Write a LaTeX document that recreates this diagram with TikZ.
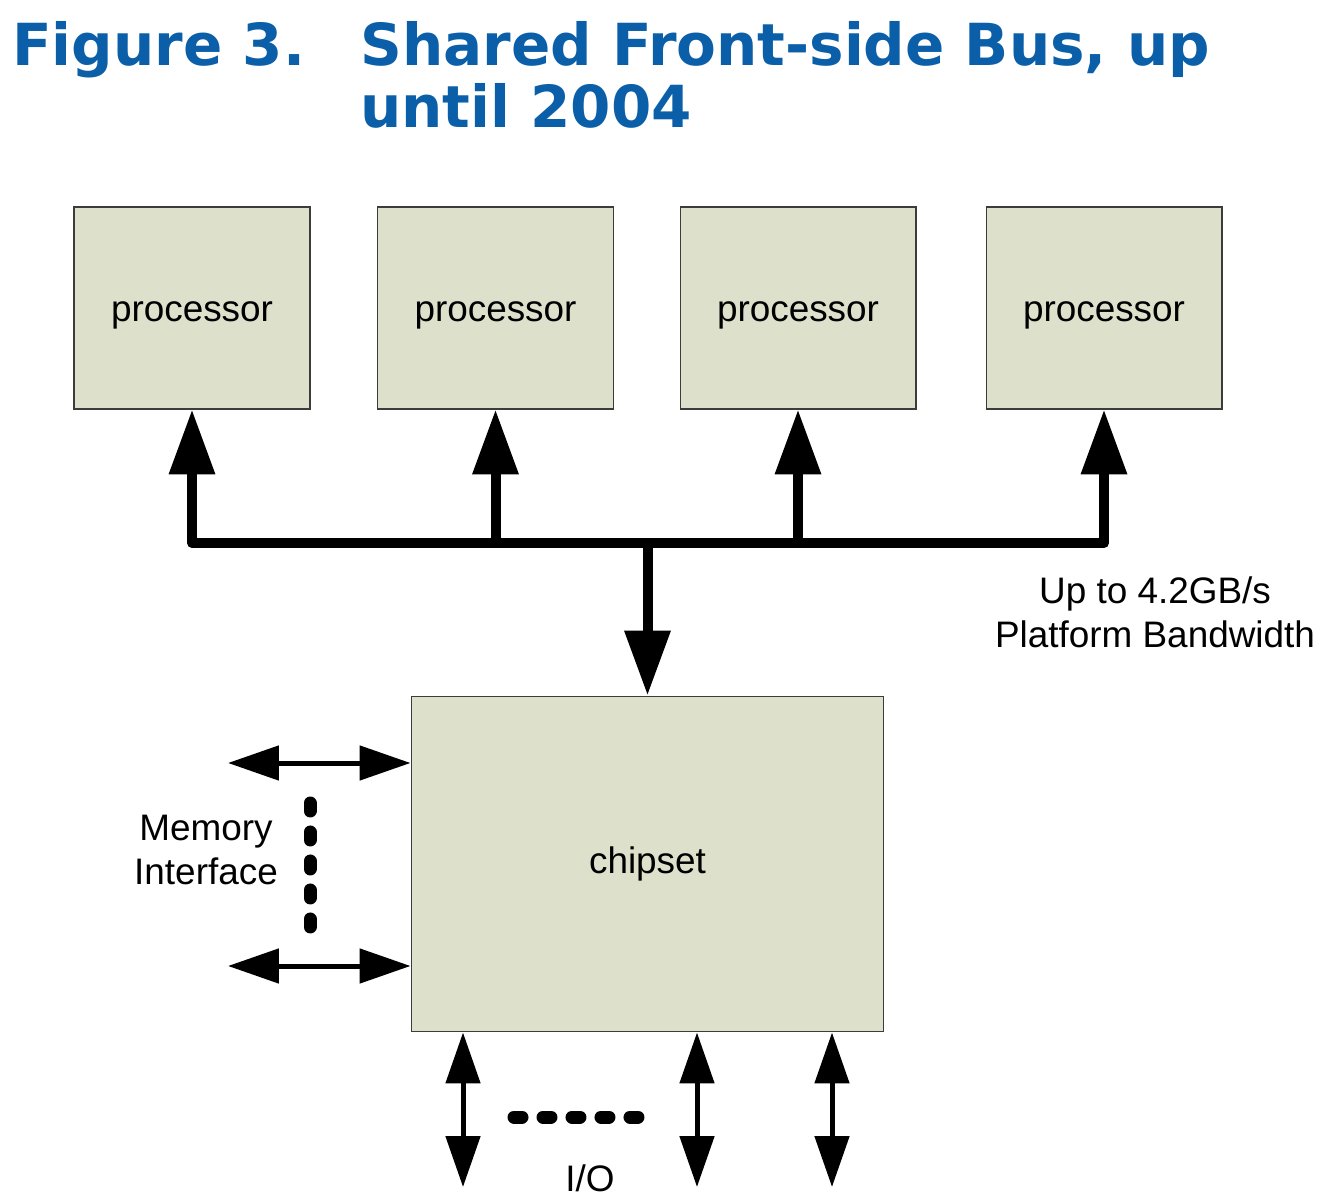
\documentclass[tikz,border=0pt]{standalone}
\usepackage{fontspec}
\setmainfont{Liberation Sans}
\newfontfamily\titlefont{DejaVu Sans}
\usepackage{tikz}
\usetikzlibrary{arrows.meta}
\definecolor{titleblue}{RGB}{10,95,168}
\definecolor{boxfill}{RGB}{221,225,203}
\definecolor{boxline}{RGB}{60,60,60}
\tikzset{
  procbox/.style={draw=boxline, line width=0.6pt, fill=boxfill, rectangle, minimum width=4.72cm, minimum height=4.04cm, text height=0.56cm, text depth=0cm, font=\fontsize{21}{25}\selectfont},
  chipbox/.style={draw=boxline, line width=0.6pt, fill=boxfill, rectangle, minimum width=9.46cm, minimum height=6.72cm, font=\fontsize{21}{25}\selectfont},
  bus/.style={line width=0.2cm, line cap=round},
  busarrow/.style={line width=0.2cm, -{Triangle[width=0.88cm,length=1.3cm]}},
  twoway/.style={line width=0.1cm, {Triangle[width=0.68cm,length=1.02cm]}-{Triangle[width=0.68cm,length=1.02cm]}},
  dots/.style={line width=0.26cm, line cap=round, dash pattern=on 0.16cm off 0.42cm},
  label/.style={font=\fontsize{21}{25}\selectfont, align=center, inner sep=0pt},
  title/.style={font=\titlefont\bfseries\fontsize{33}{36}\selectfont, text=titleblue, anchor=base west, inner sep=0pt}
}
\begin{document}
\begin{tikzpicture}[x=0.02cm, y=-0.02cm]
\useasboundingbox (0,0) rectangle (1336,1202);
% title
\node[title] (fig) at (12,66) {Figure 3.};
\node[title] (title1) at (360,66) {Shared Front-side Bus, up};
\node[title] (title2) at (360,128) {until 2004};
% processors on the shared bus
\node[procbox] (p1) at (192,308) {processor};
\node[procbox] (p2) at (495.5,308) {processor};
\node[procbox] (p3) at (798,308) {processor};
\node[procbox] (p4) at (1104,308) {processor};
\node[chipbox] (chipset) at (647.5,864) {chipset};
\coordinate (bus) at (0,543);
\draw[bus] (p1.south |- bus) -- (p4.south |- bus);
\foreach \p in {p1,p2,p3,p4}
  \draw[busarrow] (\p.south |- bus) -- (\p.south);
\draw[busarrow] (chipset.north |- bus) -- (chipset.north);
\node[label] (bw) at (1155,612) {Up to 4.2GB/s\\Platform Bandwidth};
% memory interface
\coordinate (mem1) at (228,763);
\coordinate (mem2) at (228,966);
\draw[twoway] (mem1) -- (mem1 -| chipset.west);
\draw[twoway] (mem2) -- (mem2 -| chipset.west);
\coordinate (memtop) at (310,803);
\coordinate (membot) at (310,930);
\draw[dots] (memtop) -- (membot);
\node[label] (mem) at (206,850) {Memory\\Interface};
% I/O
\foreach \x [count=\i] in {463,697,832}
  \coordinate (io\i) at (\x,1187);
\foreach \i in {1,2,3}
  \draw[twoway] (io\i |- chipset.south) -- (io\i);
\coordinate (ioL) at (514,1117);
\coordinate (ioR) at (646,1117);
\draw[dots] (ioL) -- (ioR);
\node[label] (io) at (590,1178) {I/O};
\end{tikzpicture}
\end{document}
